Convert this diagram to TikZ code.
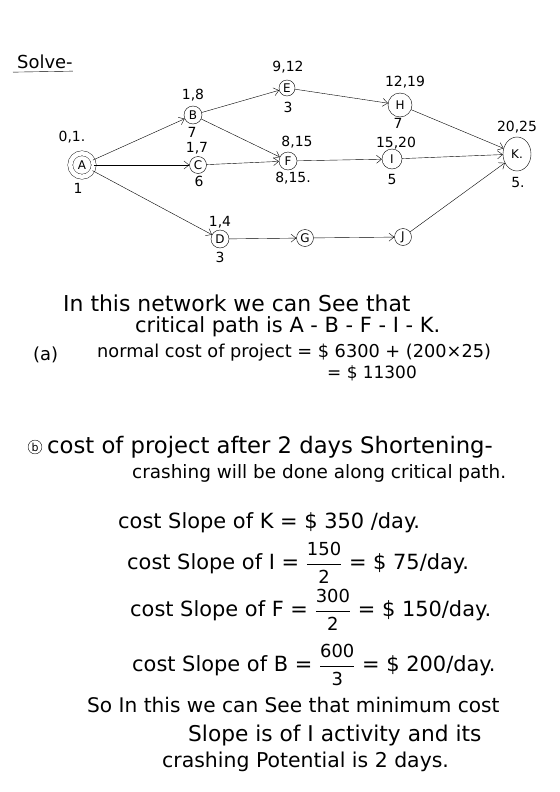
\documentclass[tikz,border=0pt]{standalone}
\usepackage{amsmath}
\usepackage{fontspec}
\setmainfont{DejaVu Sans}
\usepackage{tikz}
\usetikzlibrary{arrows.meta,shapes.geometric}
\newcommand{\slopefrac}[2]{$\dfrac{\text{\fontsize{18}{19}\selectfont #1}}{\text{\fontsize{18}{19}\selectfont #2}}$}

\begin{document}
\begin{tikzpicture}[x=1bp,y=-1bp,
  nd/.style={draw,circle,inner sep=0pt,font=\fontsize{12}{13}\selectfont},
  lb/.style={font=\fontsize{14}{15}\selectfont,inner sep=1pt},
  tx/.style={anchor=west,inner sep=0pt,font=\fontsize{#1}{24}\selectfont},
  tx/.default=21,
  ar/.style={-{Straight Barb[length=5bp,width=8bp]}}]
\useasboundingbox (0,0) rectangle (560,792);
\node[tx=18] (sol) at (17,62) {Solve-};
\draw ([xshift=-4bp,yshift=-3bp]sol.south west) -- ([yshift=-2bp]sol.south east);
% network
\node[nd,double,double distance=4.5bp,minimum size=23.5bp] (A) at (82,165) {A};
\node[nd,minimum size=18bp] (B) at (193,115) {B};
\node[nd,minimum size=17bp] (C) at (198,165) {C};
\node[nd,minimum size=18bp] (D) at (220,239) {D};
\node[nd,minimum size=16bp] (E) at (287,88) {E};
\node[nd,minimum size=18bp] (F) at (288,161) {F};
\node[nd,minimum size=17bp] (G) at (305,238) {G};
\node[nd,minimum size=24bp] (H) at (400,105) {H};
\node[nd,minimum size=20bp] (I) at (392,159) {I};
\node[nd,minimum size=17bp] (J) at (403,237) {J};
\node[nd,ellipse,minimum width=28bp,minimum height=34bp] (K) at (517,154) {K.};
\foreach \u/\v in {A/B,A/C,A/D,B/E,B/F,C/F,E/H,F/I,H/K,I/K,D/G,G/J,J/K}
  \draw[ar] (\u) -- (\v);
% times
\node[lb] (At) at (72,137) {0,1.};
\node[lb] (Ab) at (78,188) {1};
\node[lb] (Bt) at (193,95) {1,8};
\node[lb] (Bb) at (192,132) {7};
\node[lb] (Ct) at (197,148) {1,7};
\node[lb] (Cb) at (199,181) {6};
\node[lb] (Dt) at (220,222) {1,4};
\node[lb] (Db) at (220,257) {3};
\node[lb] (Et) at (288,67) {9,12};
\node[lb] (Eb) at (288,107) {3};
\node[lb] (Ft) at (297,142) {8,15};
\node[lb] (Fb) at (293,178) {8,15.};
\node[lb] (Ht) at (405,82) {12,19};
\node[lb] (Hb) at (398,123) {7};
\node[lb] (It) at (396,143) {15,20};
\node[lb] (Ib) at (392,180) {5};
\node[lb] (Kt) at (517,127) {20,25};
\node[lb] (Kb) at (518,183) {5.};
% working
\node[tx=22] (l1) at (63,303) {In this network we can See that};
\node[tx] (l2) at (135,327) {critical path is A - B - F - I - K.};
\node[tx=18] (pa) at (33,355) {(a)};
\node[tx=17.8] (l3) at (97,353) {normal cost of project = \$ 6300 + (200×25)};
\node[tx=17] (l4) at (327,373) {= \$ 11300};
\node[draw,circle,inner sep=1bp,font=\fontsize{11}{12}\selectfont] (pb) at (35,447) {b};
\node[tx=22.8] (l5) at (47,447) {cost of project after 2 days Shortening-};
\node[tx=18.5] (l6) at (132,473) {crashing will be done along critical path.};
\node[tx] (l7) at (118,523) {cost Slope of K = \$ 350 /day.};
\node[tx] (l8) at (127,563) {cost Slope of I = \slopefrac{150}{2} = \$ 75/day.};
\node[tx] (l9) at (130,610) {cost Slope of F = \slopefrac{300}{2} = \$ 150/day.};
\node[tx] (l10) at (132,665) {cost Slope of B = \slopefrac{600}{3} = \$ 200/day.};
\node[tx=20.2] (l11) at (87,705) {So In this we can See that minimum cost};
\node[tx=21.8] (l12) at (188,735) {Slope is of I activity and its};
\node[tx=20.5] (l13) at (162,762) {crashing Potential is 2 days.};
\end{tikzpicture}
\end{document}
